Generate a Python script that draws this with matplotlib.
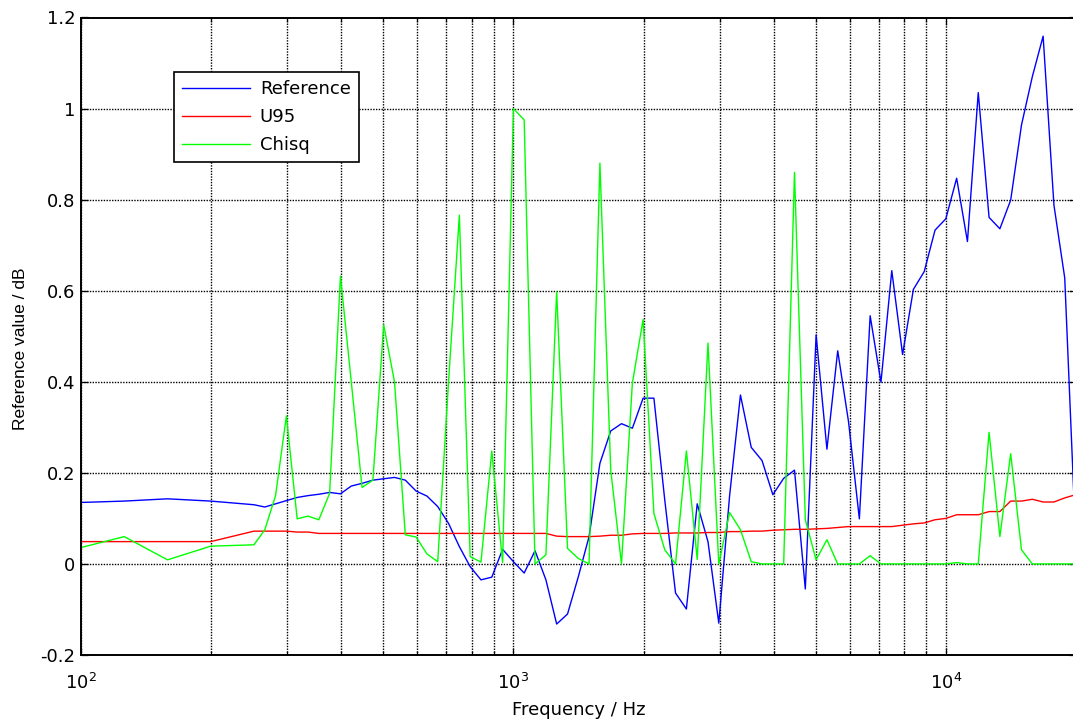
import numpy as np
import matplotlib
matplotlib.use("Agg")
import matplotlib.pyplot as plt
from matplotlib.ticker import LogLocator, LogFormatterMathtext, FixedLocator

plt.rcParams['font.family'] = ['DejaVu Sans']
plt.rcParams['mathtext.fontset'] = 'dejavusans'
plt.rcParams['axes.unicode_minus'] = False

# third-octave below 250 Hz, twelfth-octave above
freq = [100, 125.9, 158.5, 199.5,
        251.2, 266.1, 281.8, 298.5, 316.2, 335.0, 354.8, 375.8,
        398.1, 421.7, 446.7, 473.2, 501.2, 530.9, 562.3, 595.7,
        631.0, 668.3, 707.9, 749.9, 794.3, 841.4, 891.3, 944.1,
        1000, 1059, 1122, 1189, 1259, 1334, 1413, 1496,
        1585, 1679, 1778, 1884, 1995, 2113, 2239, 2371,
        2512, 2661, 2818, 2985, 3162, 3350, 3548, 3758,
        3981, 4217, 4467, 4732, 5012, 5309, 5623, 5957,
        6310, 6683, 7079, 7499, 7943, 8414, 8913, 9441,
        10000, 10593, 11220, 11885, 12589, 13335, 14125, 14962,
        15849, 16788, 17783, 18836, 19953]

reference = [0.135, 0.138, 0.143, 0.138,
             0.130, 0.125, 0.132, 0.139, 0.146, 0.150, 0.153, 0.157,
             0.154, 0.171, 0.177, 0.184, 0.187, 0.190, 0.184, 0.160,
             0.149, 0.126, 0.089, 0.038, -0.006, -0.035, -0.029, 0.032,
             0.005, -0.020, 0.029, -0.035, -0.132, -0.110, -0.028, 0.060,
             0.221, 0.292, 0.308, 0.298, 0.364, 0.364, 0.140, -0.064,
             -0.099, 0.132, 0.049, -0.130, 0.150, 0.371, 0.256, 0.227,
             0.152, 0.188, 0.206, -0.055, 0.503, 0.252, 0.468, 0.312,
             0.099, 0.545, 0.399, 0.644, 0.460, 0.603, 0.642, 0.733,
             0.758, 0.847, 0.708, 1.035, 0.761, 0.736, 0.799, 0.964,
             1.070, 1.159, 0.788, 0.628, 0.060]

u95 = [0.049, 0.049, 0.049, 0.049,
       0.072, 0.072, 0.072, 0.072, 0.070, 0.070, 0.067, 0.067,
       0.067, 0.067, 0.067, 0.067, 0.067, 0.067, 0.067, 0.067,
       0.067, 0.067, 0.067, 0.067, 0.067, 0.067, 0.067, 0.067,
       0.067, 0.067, 0.067, 0.067, 0.061, 0.060, 0.060, 0.060,
       0.061, 0.063, 0.063, 0.066, 0.067, 0.067, 0.067, 0.068,
       0.068, 0.068, 0.069, 0.069, 0.071, 0.071, 0.072, 0.072,
       0.074, 0.075, 0.076, 0.076, 0.077, 0.078, 0.080, 0.082,
       0.082, 0.082, 0.082, 0.082, 0.085, 0.088, 0.090, 0.097,
       0.100, 0.108, 0.108, 0.108, 0.115, 0.115, 0.138, 0.138,
       0.142, 0.136, 0.136, 0.145, 0.152]

chisq = [0.036, 0.060, 0.009, 0.039,
         0.042, 0.075, 0.150, 0.325, 0.099, 0.105, 0.097, 0.155,
         0.632, 0.400, 0.168, 0.184, 0.525, 0.400, 0.064, 0.059,
         0.022, 0.005, 0.400, 0.766, 0.016, 0.004, 0.248, 0.003,
         1.000, 0.975, 0.000, 0.020, 0.598, 0.034, 0.012, 0.000,
         0.880, 0.206, 0.000, 0.397, 0.537, 0.111, 0.031, 0.000,
         0.248, 0.010, 0.485, 0.000, 0.113, 0.075, 0.005, 0.000,
         0.000, 0.000, 0.860, 0.097, 0.009, 0.053, 0.000, 0.000,
         0.000, 0.018, 0.000, 0.000, 0.000, 0.000, 0.000, 0.000,
         0.000, 0.003, 0.000, 0.000, 0.289, 0.060, 0.242, 0.031,
         0.000, 0.000, 0.000, 0.000, 0.000]

fig = plt.figure(figsize=(10.73, 7.27), dpi=100)
ax = fig.add_axes([81 / 1073, 1 - 655 / 727, 995 / 1073, 637.5 / 727])

ax.semilogx(freq, reference, color='#0000ff', lw=1.0, label='Reference')
ax.semilogx(freq, u95, color='#ff0000', lw=1.0, label='U95')
ax.semilogx(freq, chisq, color='#00ff00', lw=1.0, label='Chisq')

ax.set_xlim(100, 20000)
ax.set_ylim(-0.2, 1.2)
ax.xaxis.set_major_locator(LogLocator(base=10))
ax.xaxis.set_minor_locator(LogLocator(base=10, subs=np.arange(2, 10)))
ax.xaxis.set_major_formatter(LogFormatterMathtext())
ax.yaxis.set_major_locator(FixedLocator(np.arange(-0.2, 1.21, 0.2)))
ax.yaxis.set_major_formatter(plt.FuncFormatter(lambda v, p: '%g' % round(v, 1)))

grid_style = dict(color='k', linestyle=(0, (1, 1)), linewidth=1.0)
ax.grid(True, which='major', axis='both', **grid_style)
ax.grid(True, which='minor', axis='x', **grid_style)
ax.set_axisbelow(True)

ax.tick_params(which='both', direction='in', top=True, right=True,
               labelsize=13, width=0.9)
ax.tick_params(which='major', length=5)
ax.tick_params(which='minor', length=3)
ax.tick_params(axis='x', which='major', pad=13)
ax.tick_params(axis='y', which='major', pad=4)
for s in ax.spines.values():
    s.set_linewidth(1.4)

ax.set_xlabel('Frequency / Hz', fontsize=13, labelpad=6)
ax.set_ylabel('Reference value / dB', fontsize=12.5, family='Liberation Sans')
ax.yaxis.set_label_coords(-0.053, 0.48)

leg = ax.legend(loc='upper left', bbox_to_anchor=(174 / 1073, 1 - 72 / 727),
                bbox_transform=fig.transFigure, borderaxespad=0,
                fancybox=False, framealpha=1, edgecolor='k', fontsize=13,
                handlelength=3.75, handletextpad=0.55, labelspacing=0.55,
                borderpad=0.45)
leg.get_frame().set_linewidth(1.2)

fig.savefig('out.png', dpi=100)
